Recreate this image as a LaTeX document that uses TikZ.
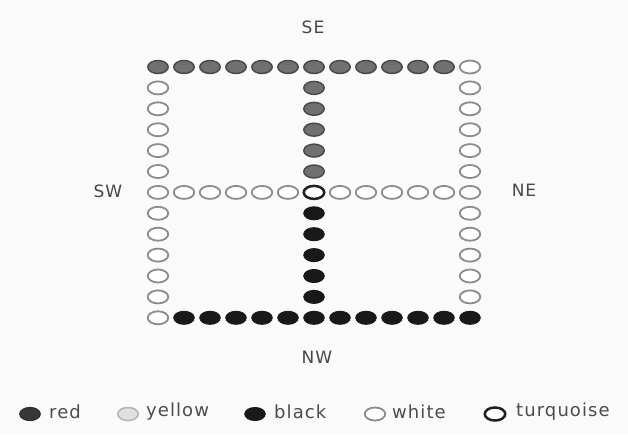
\documentclass[tikz,border=0pt]{standalone}
\usepackage{fontspec}
\setmainfont{DejaVu Sans}
\newfontfamily\legfont[LetterSpace=6]{DejaVu Sans}
\usetikzlibrary{shapes.geometric}
\tikzset{
  bead/.style={ellipse, minimum width=20.5pt, minimum height=13pt, inner sep=0pt},
  redb/.style={bead, fill=black!56, draw=black!72, line width=1.4pt},
  redleg/.style={bead, fill=black!78, draw=black!82, line width=1.2pt},
  blackb/.style={bead, fill=black!90, draw=black!90, line width=1pt},
  whiteb/.style={bead, fill=white, draw=black!45, line width=1.8pt},
  yellowb/.style={bead, fill=black!12, draw=black!30, line width=1.5pt},
  turqb/.style={bead, fill=white, draw=black!88, line width=2.5pt},
  dirlab/.style={text=black!72, font=\legfont\fontsize{17}{19}\selectfont},
  legtext/.style={text=black!70, anchor=west, inner sep=0pt, font=\legfont\fontsize{18}{20}\selectfont}
}
\begin{document}
\begin{tikzpicture}[x=1pt,y=-1pt]
\fill[black!2] (0,0) rectangle (628,434);
\useasboundingbox (0,0) rectangle (628,434);
\def\X#1{158+26*#1}
\def\Y#1{67+20.9*#1}
% top row
\foreach \c in {0,...,11} \node[redb] (b\c-0) at ({\X{\c}},{\Y{0}}) {};
\node[whiteb] (b12-0) at ({\X{12}},{\Y{0}}) {};
% left column
\foreach \r in {1,...,12} \node[whiteb] (b0-\r) at ({\X{0}},{\Y{\r}}) {};
% right column
\foreach \r in {1,...,11} \node[whiteb] (b12-\r) at ({\X{12}},{\Y{\r}}) {};
\node[blackb] (b12-12) at ({\X{12}},{\Y{12}}) {};
% bottom row
\foreach \c in {1,...,11} \node[blackb] (b\c-12) at ({\X{\c}},{\Y{12}}) {};
% middle row
\foreach \c in {1,2,3,4,5,7,8,9,10,11} \node[whiteb] (b\c-6) at ({\X{\c}},{\Y{6}}) {};
\node[turqb] (b6-6) at ({\X{6}},{\Y{6}}) {};
% middle column
\foreach \r in {1,...,5} \node[redb] (b6-\r) at ({\X{6}},{\Y{\r}}) {};
\foreach \r in {7,...,11} \node[blackb] (b6-\r) at ({\X{6}},{\Y{\r}}) {};
% direction labels
\node[dirlab] (se) at (313,27) {SE};
\node[dirlab] (sw) at (108,191) {SW};
\node[dirlab] (ne) at (524,190) {NE};
\node[dirlab] (nw) at (317,357) {NW};
% legend
\node[redleg] (lr) at (30,414) {};
\node[legtext] (tr) at (49,412) {red};
\node[yellowb] (ly) at (128,414) {};
\node[legtext] (ty) at (146,412) {yellow};
\node[blackb] (lb) at (255,414) {};
\node[legtext] (tb) at (274,412) {black};
\node[whiteb] (lw) at (375,414) {};
\node[legtext] (tw) at (392,412) {white};
\node[turqb] (lt) at (495,414) {};
\node[legtext] (tt) at (516,412) {turquoise};
\end{tikzpicture}
\end{document}
